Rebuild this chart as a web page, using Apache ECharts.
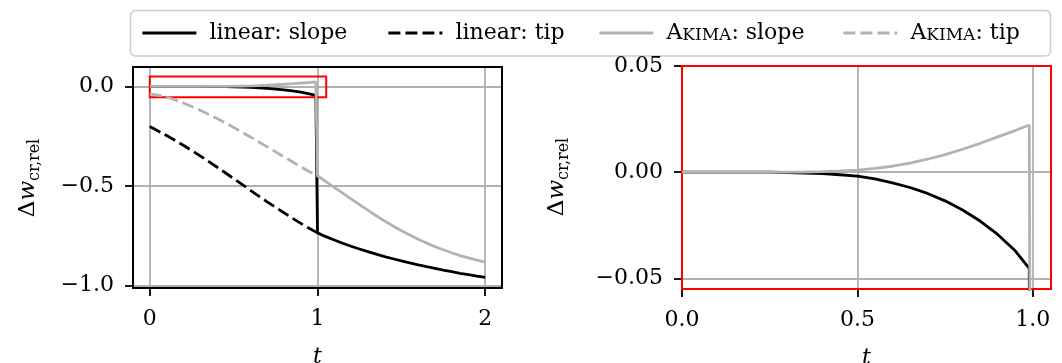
<!DOCTYPE html>
<html><head><meta charset="utf-8">
<script src="https://cdn.jsdelivr.net/npm/echarts@6/dist/echarts.min.js"></script>
<style>html,body{margin:0;padding:0;background:#fff}#c{width:1062px;height:363px}</style>
</head><body><div id="c"></div>
<script>
// ---- data ----
const tSlope = [0, 0.05, 0.1, 0.15, 0.2, 0.25, 0.3, 0.35, 0.4, 0.45, 0.5, 0.55, 0.6, 0.65, 0.7, 0.75, 0.8, 0.85, 0.9, 0.95, 0.99,
  1.0, 1.05, 1.1, 1.15, 1.2, 1.25, 1.3, 1.35, 1.4, 1.45, 1.5, 1.55, 1.6, 1.65, 1.7, 1.75, 1.8, 1.85, 1.9, 1.95, 2.0];
const linearSlope = [0, 0, 0, 0, 0, 0, -0.0002, -0.0004, -0.0007, -0.0012, -0.0019, -0.0032, -0.0050, -0.0072, -0.0100, -0.0135, -0.0178, -0.0230, -0.0293, -0.0370, -0.0453,
  -0.736, -0.755, -0.772, -0.788, -0.803, -0.817, -0.830, -0.843, -0.855, -0.866, -0.877, -0.887, -0.897, -0.906, -0.914, -0.923, -0.931, -0.939, -0.946, -0.953, -0.960];
const akimaSlope = [0, 0, 0, 0, 0, 0, 0, 0.0001, 0.0003, 0.0006, 0.0010, 0.0018, 0.0028, 0.0043, 0.0061, 0.0083, 0.0108, 0.0136, 0.0166, 0.0196, 0.0222,
  -0.449, -0.478, -0.507, -0.536, -0.565, -0.594, -0.622, -0.650, -0.676, -0.701, -0.725, -0.747, -0.768, -0.787, -0.805, -0.821, -0.836, -0.850, -0.862, -0.873, -0.883];
const tTip = [0, 0.05, 0.1, 0.15, 0.2, 0.25, 0.3, 0.35, 0.4, 0.45, 0.5, 0.55, 0.6, 0.65, 0.7, 0.75, 0.8, 0.85, 0.9, 0.95, 1.0];
const linearTip = [-0.201, -0.224, -0.247, -0.271, -0.296, -0.322, -0.349, -0.377, -0.405, -0.434, -0.463, -0.492, -0.522, -0.551, -0.580, -0.608, -0.635, -0.662, -0.688, -0.713, -0.736];
const akimaTip = [-0.037, -0.044, -0.054, -0.067, -0.083, -0.101, -0.120, -0.140, -0.161, -0.183, -0.206, -0.230, -0.254, -0.279, -0.304, -0.329, -0.354, -0.379, -0.404, -0.428, -0.449];
const seriesNames = ['linear: slope', 'linear: tip', 'Akima: slope', 'Akima: tip'];
const leftXTicks = [0, 1, 2];
const leftYTicks = [-1, -0.5, 0];
const rightXTicks = [0, 0.5, 1];
const rightYTicks = [-0.05, 0, 0.05];
const leftXRange = [-0.1, 2.1];
const leftYRange = [-1.013, 0.0975];
const zoomX = [0, 1.052];
const zoomY = [-0.055, 0.05];

// ---- chart ----
const FONT = 'DejaVu Serif';
const BLACK = '#000000', GRAY = '#b3b3b3', GRIDC = '#b0b0b0', RED = '#ff0000';
const minus = s => s.replace('-', '\u2212');
const pairs = (ts, vs) => ts.map((t, i) => [t, vs[i]]);

function axis(gridIndex, range, ticks, digits, margin, frameColor, extra) {
  return Object.assign({
    type: 'value', gridIndex, min: range[0], max: range[1],
    axisLine: {show: true, onZero: false, lineStyle: {color: frameColor, width: 2}},
    axisTick: {show: true, customValues: ticks, length: 8, lineStyle: {color: BLACK, width: 1.8}},
    axisLabel: {show: true, customValues: ticks, formatter: v => minus(Number(v).toFixed(digits)),
      color: BLACK, fontFamily: FONT, fontSize: 22, margin: margin},
    splitLine: {show: true, lineStyle: {color: GRIDC, width: 1.8}}
  }, extra || {});
}
const xName = {name: 't', nameLocation: 'middle', nameGap: 58,
  nameTextStyle: {fontStyle: 'italic', fontFamily: FONT, fontSize: 22, color: BLACK}};

function line(name, ts, vs, color, dashed, idx) {
  return {
    type: 'line', name, data: pairs(ts, vs), xAxisIndex: idx, yAxisIndex: idx,
    symbol: 'none', showSymbol: false, animation: false, clip: true,
    lineStyle: {color, width: 2.8, type: dashed ? [12, 5] : 'solid'},
    itemStyle: {color}
  };
}

const left = [
  line(seriesNames[0], tSlope, linearSlope, BLACK, false, 0),
  line(seriesNames[1], tTip, linearTip, BLACK, true, 0),
  line(seriesNames[2], tSlope, akimaSlope, GRAY, false, 0),
  line(seriesNames[3], tTip, akimaTip, GRAY, true, 0)
];
left[3].markArea = {
  silent: true,
  itemStyle: {color: 'rgba(0,0,0,0)', borderColor: RED, borderWidth: 2},
  data: [[{coord: [zoomX[0], zoomY[1]]}, {coord: [zoomX[1], zoomY[0]]}]]
};
const right = [
  line(seriesNames[0], tSlope, linearSlope, BLACK, false, 1),
  line(seriesNames[2], tSlope, akimaSlope, GRAY, false, 1)
];

const legendX = [141, 387, 598, 842];
const richText = {
  g: {width: 8},
  n: {fontSize: 22, fontFamily: FONT, color: BLACK, verticalAlign: 'bottom'},
  s: {fontSize: 17, fontFamily: FONT, color: BLACK, verticalAlign: 'bottom'}
};
const legends = seriesNames.map((name, i) => ({
  data: [name], left: legendX[i], top: 22, padding: 0,
  itemWidth: 54, itemHeight: 24, selectedMode: false,
  itemStyle: {opacity: 0},
  lineStyle: {width: 2.8},
  textStyle: {fontFamily: FONT, fontSize: 22, color: BLACK, rich: richText},
  formatter: n => n.startsWith('Akima')
    ? '{g|}{n|A}{s|KIMA}{n|' + n.slice(5) + '}'
    : '{g|}{n|' + n + '}'
}));

const yRich = {
  d: {fontSize: 23, fontFamily: FONT, color: BLACK, verticalAlign: 'top', lineHeight: 26},
  w: {fontSize: 23, fontFamily: FONT, fontStyle: 'italic', color: BLACK, verticalAlign: 'top', lineHeight: 26},
  s: {fontSize: 16, fontFamily: FONT, color: BLACK, verticalAlign: 'bottom', lineHeight: 12}
};
const yLabel = (x, y) => ({
  type: 'text', x, y, rotation: Math.PI / 2, z: 10,
  style: {text: '{d|\u0394}{w|w}{s|cr,rel}', rich: yRich, align: 'center', verticalAlign: 'middle'}
});

const option = {
  animation: false,
  backgroundColor: '#ffffff',
  grid: [
    {left: 133, top: 67, width: 369, height: 221, show: true, borderColor: BLACK, borderWidth: 2,
      backgroundColor: 'transparent', z: 1, containLabel: false, outerBoundsMode: 'none'},
    {left: 682, top: 66, width: 369, height: 223, show: true, borderColor: RED, borderWidth: 2,
      backgroundColor: 'transparent', z: 1, containLabel: false, outerBoundsMode: 'none'}
  ],
  xAxis: [
    axis(0, leftXRange, leftXTicks, 0, 20, BLACK, xName),
    axis(1, zoomX, rightXTicks, 1, 20, RED, xName)
  ],
  yAxis: [
    axis(0, leftYRange, leftYTicks, 1, 19, BLACK),
    axis(1, zoomY, rightYTicks, 2, 19, RED)
  ],
  legend: legends,
  graphic: [
    {type: 'rect', shape: {x: 130.5, y: 10.5, width: 920, height: 45.5, r: 5}, z: -1,
      style: {fill: '#ffffff', stroke: '#cccccc', lineWidth: 1.5}},
    yLabel(30, 178),
    yLabel(559, 177)
  ],
  series: left.concat(right)
};
const chart = echarts.init(document.getElementById('c'));
chart.setOption(option);
</script>
</body></html>
